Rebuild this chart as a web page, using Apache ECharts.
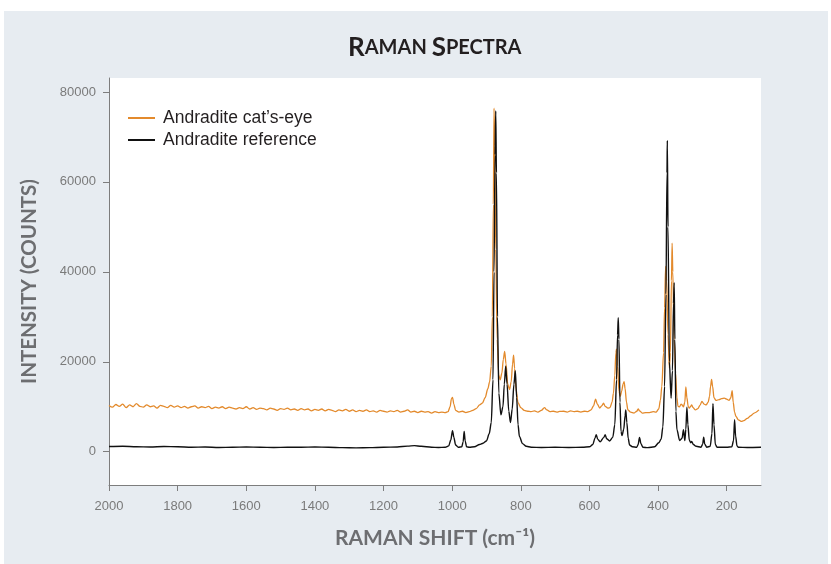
<!DOCTYPE html>
<html>
<head>
<meta charset="utf-8">
<script src="https://cdn.jsdelivr.net/npm/echarts@6/dist/echarts.min.js"></script>
<style>
html,body{margin:0;padding:0;background:#ffffff;}
#chart{width:831px;height:564px;}
</style>
</head>
<body>
<div id="chart"></div>
<script>
// ---- Data (Raman shift in cm-1, intensity in counts) ----
const seriesNames = ["Andradite cat\u2019s-eye", "Andradite reference"];
const xTicks = [200, 400, 600, 800, 1000, 1200, 1400, 1600, 1800, 2000];
const yTicks = [0, 20000, 40000, 60000, 80000];

const catsEyeShift = [
  2000,1990,1980,1970,1960,1950,1940,1930,1920,1910,1900,1890,1880,1870,1860,1850,1840,1830,1820,1810,
  1800,1790,1780,1770,1760,1750,1740,1730,1720,1710,1700,1690,1680,1670,1660,1650,1640,1630,1620,1610,
  1600,1590,1580,1570,1560,1550,1540,1530,1520,1510,1500,1490,1480,1470,1460,1450,1440,1430,1420,1410,
  1400,1390,1380,1370,1360,1350,1340,1330,1320,1310,1300,1290,1280,1270,1260,1250,1240,1230,1220,1210,
  1200,1190,1180,1170,1160,1150,1140,1130,1120,1110,1100,1090,1080,1070,1060,1050,1040,1030,1020,
  1012,1006,1002,999,995,990,980,970,960,950,940,930,920,912,904,896,891,886,883,880,878,876,873,869,864,
  860,855,851,847,843,838,833,828,824,821,818,814,808,800,790,780,770,760,750,740,731,724,715,705,695,
  687,675,665,655,645,635,625,615,605,595,588,582,577,570,564,559,554,546,540,534,530,526,523,521,518,
  514,510,506,502,499,496,492,488,480,470,462,458,454,446,436,425,414,406,398,393,389,384,381,378,375,
  371,367,364,361,359,357,353,349,345,342,337,333,330,326,322,319,316,312,309,305,302,298,291,284,278,
  272,266,260,254,250,247,244,241,237,231,222,215,207,200,193,188,184,181,177,173,166,158,150,140,130,
  120,106
];
const catsEyeIntensity = [
  10300,9900,10500,10100,10600,9800,10400,10000,10700,10100,9900,10400,10000,10200,9700,10300,10100,9800,10300,9900,
  10200,9800,10100,9700,10000,10200,9700,10000,9800,10100,9600,9900,9700,10000,9600,9900,9700,9500,9800,9600,
  10000,9500,9800,9400,9700,9600,9300,9700,9500,9200,9600,9400,9700,9300,9500,9200,9600,9300,9500,9100,
  9400,9200,9500,9100,9400,9200,8900,9300,9100,9400,9000,9300,8900,9200,9000,9300,8900,9100,8800,9200,
  9000,8800,9100,8900,9200,8800,9000,9300,8800,9000,8700,9000,8800,8900,8600,8900,8700,8800,8700,
  8900,10000,11800,12100,10600,9200,8800,9000,8700,8900,9200,9600,10400,10800,12000,14000,15500,19000,30000,55000,76400,68000,45000,25000,17000,
  16000,17500,20500,22300,19500,15000,13800,15500,19500,21500,18500,14000,10900,9800,9200,9000,8900,9100,8800,9200,9800,9300,8900,9000,8800,
  8950,9000,8800,9100,8900,9000,8800,9000,8900,9300,10200,11700,10600,9700,10200,10800,10100,9700,9800,11000,13000,17000,22000,22800,19000,
  13500,12300,13500,15000,15600,14000,11000,9300,8800,8600,9000,9500,9100,8600,8700,8700,8900,8800,9500,11500,14500,22000,32000,41200,38000,
  26000,18600,22000,38000,46400,40000,25000,17500,12000,10100,10000,10600,10400,10000,11000,14400,12000,10000,9700,10100,10400,9800,9300,9600,10300,
  11200,10600,10400,11000,12300,14500,16100,14500,12000,11400,11600,11800,11900,11700,11400,12000,13600,11000,8800,7850,7100,6750,6900,7400,8000,
  8600,9300
];

const referenceShift = [
  2000,1960,1920,1880,1840,1800,1760,1720,1680,1640,1600,1560,1520,1480,1440,1400,1360,1320,1280,1240,
  1200,1160,1130,1110,1090,1060,1040,1020,1010,1004,999,995,990,982,972,968,965,962,958,950,935,920,910,
  900,892,886,881,878,875,873,871,868,864,858,852,848,844,840,835,830,825,820,816,812,808,804,795,784,
  770,740,700,660,620,600,590,584,580,576,569,558,554,550,541,532,526,521,518,516,514,511,508,505,500,
  496,494,491,487,483,475,462,458,454,450,444,430,410,398,391,386,381,377,374,373,371,367,362,358,355,
  353,351,348,345,337,330,326,322,319,316,313,309,305,302,297,289,275,270,267,264,258,248,243,240,237,
  233,228,200,185,180,177,174,170,166,140,100
];
const referenceIntensity = [
  1150,1200,1100,1050,1150,1100,1000,1050,950,1000,1050,1000,950,1000,1000,1050,1000,900,850,900,
  1000,1050,1250,1350,1200,1000,950,1000,1300,2600,4700,3200,1500,1000,1100,2200,4500,2400,1100,1000,1100,1600,1900,
  2400,4000,6500,16000,40000,66000,75800,62000,30000,13000,8200,10000,15000,19000,15000,9000,6500,9500,15000,18000,12000,6000,3400,1800,1200,
  1000,950,1000,950,1000,1100,1600,3000,3800,2800,2200,3200,3800,2900,2400,3200,6000,16000,26000,29800,25000,11000,4500,3600,5000,
  8000,9300,6500,3000,1500,1100,1000,1600,3200,1800,1000,900,1100,2000,2800,5500,14500,35000,62000,69200,50000,20000,11900,18000,33000,
  37600,25000,9000,4900,2500,3000,4900,2500,5000,9900,6000,2600,2000,2300,1600,1200,1000,1700,3250,1700,1000,1200,4000,10700,6000,
  1600,1000,1000,1100,2500,7100,3500,1300,1000,950,1000
];

function zip(xs, ys) { return xs.map((x, i) => [x, ys[i]]); }

const chart = echarts.init(document.getElementById('chart'), null, {renderer: 'canvas'});
const axisGray = '#7d7d7d';
const labelGray = '#7a7a7a';
const nameGray = '#6d6e71';

chart.setOption({
  animation: false,
  backgroundColor: 'transparent',
  graphic: [{
    type: 'rect', silent: true, z: -10,
    shape: {x: 4, y: 11, width: 824, height: 553},
    style: {fill: '#e7ecf1'}
  }],
  title: {
    text: '{b|R}{s|AMAN }{b|S}{s|PECTRA}',
    left: 343, top: 30,
    textStyle: {
      rich: {
        b: {fontSize: 26, fontWeight: 'bold', fontFamily: 'Lato', color: '#231f20'},
        s: {fontSize: 20, fontWeight: 'bold', fontFamily: 'Lato', color: '#231f20'}
      }
    }
  },
  legend: {
    orient: 'vertical', left: 123, top: 104, itemGap: 4,
    itemWidth: 27, itemHeight: 2, icon: 'rect',
    textStyle: {fontSize: 17.5, color: '#231f20', fontFamily: 'Liberation Sans', padding: [0, 0, 0, 3]},
    data: seriesNames
  },
  grid: {
    left: 109, right: 70, top: 78, bottom: 79,
    show: true, backgroundColor: '#ffffff', borderWidth: 0
  },
  xAxis: {
    type: 'value', inverse: true, min: 100, max: 2000,
    name: 'RAMAN SHIFT (cm\u207B\u00B9)', nameLocation: 'middle', nameGap: 43,
    nameTextStyle: {fontSize: 21, fontWeight: 'bold', color: nameGray, fontFamily: 'Lato'},
    axisLine: {show: true, onZero: false, lineStyle: {color: axisGray, width: 1}},
    axisTick: {show: true, length: 6, customValues: xTicks, lineStyle: {color: axisGray}},
    axisLabel: {customValues: xTicks, fontSize: 13, color: labelGray, margin: 15, fontFamily: 'Liberation Sans',
      formatter: v => String(v)},
    splitLine: {show: false}
  },
  yAxis: {
    type: 'value', min: -7400, max: 83100,
    name: 'INTENSITY (COUNTS)', nameLocation: 'middle', nameGap: 69,
    nameTextStyle: {fontSize: 20.5, fontWeight: 'bold', color: nameGray, fontFamily: 'Lato'},
    axisLine: {show: true, onZero: false, lineStyle: {color: axisGray, width: 1}},
    axisTick: {show: true, length: 6, customValues: yTicks, lineStyle: {color: axisGray}},
    axisLabel: {customValues: yTicks, fontSize: 13, color: labelGray, margin: 13, fontFamily: 'Liberation Sans',
      formatter: v => String(v)},
    splitLine: {show: false}
  },
  series: [
    {
      name: seriesNames[0], type: 'line', data: zip(catsEyeShift, catsEyeIntensity),
      showSymbol: false, smooth: 0.3, smoothMonotone: 'x',
      lineStyle: {color: '#e38a2c', width: 1.3}, itemStyle: {color: '#e38a2c'}
    },
    {
      name: seriesNames[1], type: 'line', data: zip(referenceShift, referenceIntensity),
      showSymbol: false, smooth: 0.3, smoothMonotone: 'x',
      lineStyle: {color: '#111111', width: 1.4}, itemStyle: {color: '#111111'}
    }
  ]
});
</script>
</body>
</html>
